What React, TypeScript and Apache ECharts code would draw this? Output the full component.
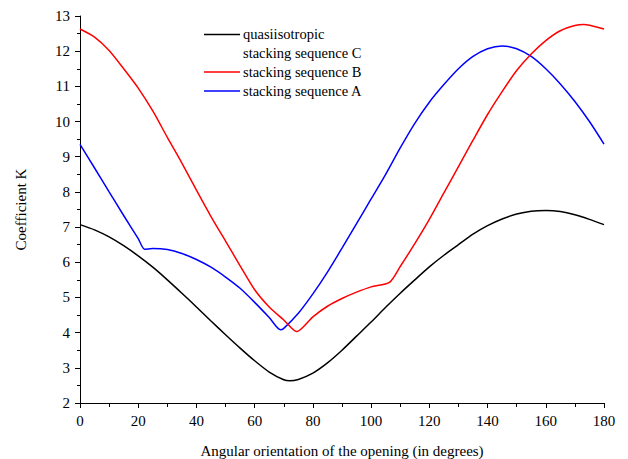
import React, { useEffect, useRef } from "react";
import * as echarts from "echarts";

// Angular orientation (degrees) and coefficient K for each stacking sequence
const seriesNames = ["quasiisotropic\nstacking sequence C", "stacking sequence B", "stacking sequence A"];

const quasiX = [0, 5, 10, 15, 20, 25, 30, 35, 40, 45, 50, 55, 60, 65, 70, 72, 75, 80, 85, 90, 95, 100, 105, 110, 115, 120, 125, 130, 135, 140, 145, 150, 155, 160, 165, 170, 175, 180];
const quasiK = [7.07, 6.92, 6.72, 6.47, 6.18, 5.86, 5.5, 5.12, 4.73, 4.33, 3.94, 3.56, 3.2, 2.88, 2.66, 2.63, 2.67, 2.85, 3.14, 3.5, 3.9, 4.3, 4.72, 5.12, 5.5, 5.87, 6.2, 6.5, 6.8, 7.04, 7.23, 7.37, 7.45, 7.47, 7.44, 7.35, 7.22, 7.07];

const seqBX = [0, 5, 10, 15, 20, 25, 30, 35, 40, 45, 50, 55, 60, 65, 70, 74.4, 80, 85, 90, 95, 100, 106.3, 110, 115, 120, 125, 130, 135, 140, 145, 150, 155, 160, 165, 170, 173, 175, 180];
const seqBK = [12.63, 12.4, 12.02, 11.5, 10.95, 10.3, 9.55, 8.82, 8.05, 7.3, 6.6, 5.9, 5.22, 4.73, 4.36, 4.03, 4.45, 4.75, 4.97, 5.15, 5.3, 5.43, 5.88, 6.53, 7.22, 7.97, 8.72, 9.47, 10.2, 10.85, 11.45, 11.92, 12.3, 12.58, 12.73, 12.76, 12.74, 12.63];

const seqAX = [0, 5, 10, 15, 20, 22.2, 25, 30, 35, 40, 45, 50, 55, 60, 65, 68.9, 70, 75, 80, 85, 90, 95, 100, 105, 110, 115, 120, 125, 130, 135, 140, 145, 150, 155, 160, 165, 170, 175, 180];
const seqAK = [9.35, 8.68, 8.0, 7.33, 6.67, 6.37, 6.39, 6.36, 6.25, 6.08, 5.86, 5.58, 5.26, 4.86, 4.43, 4.08, 4.12, 4.55, 5.1, 5.72, 6.4, 7.1, 7.8, 8.5, 9.25, 9.95, 10.55, 11.05, 11.5, 11.85, 12.07, 12.15, 12.07, 11.85, 11.5, 11.07, 10.57, 10.0, 9.36];

const xTicks = { min: 0, max: 180, interval: 20 };
const yTicks = { min: 2, max: 13, interval: 1 };
const xTitle = "Angular orientation of the opening (in degrees)";
const yTitle = "Coefficient K";

const colors = ["#000000", "#ff0000", "#0000ff"];

const FONT = "'Liberation Serif', 'Times New Roman', serif";

function pairs(xs: number[], ys: number[]) {
  return xs.map((x, i) => [x, ys[i]]);
}

export default function App() {
  const ref = useRef<HTMLDivElement>(null);
  useEffect(() => {
    if (!ref.current) return;
    const chart = echarts.init(ref.current, undefined, { renderer: "svg" });
    const data = [pairs(quasiX, quasiK), pairs(seqBX, seqBK), pairs(seqAX, seqAK)];
    const legendTop = 34.5;
    const legendStep = 18.8;
    const legendRows = [
      { idx: 0, y: legendTop },
      { idx: 1, y: legendTop + legendStep * 2 },
      { idx: 2, y: legendTop + legendStep * 3 },
    ];
    const graphics: any[] = [];
    legendRows.forEach((r) => {
      graphics.push({
        type: "line",
        shape: { x1: 204, y1: r.y, x2: 240, y2: r.y },
        style: { stroke: colors[r.idx], lineWidth: 1.5 },
      });
    });
    const legendFont = `14.5px ${FONT}`;
    graphics.push({
      type: "text",
      x: 243,
      y: legendTop - legendStep / 2,
      style: {
        text: seriesNames[0],
        fill: "#000",
        font: legendFont,
        lineHeight: legendStep,
        verticalAlign: "top",
      },
    });
    [1, 2].forEach((i) => {
      graphics.push({
        type: "text",
        x: 243,
        y: legendTop + legendStep * (i + 1) - legendStep / 2,
        style: {
          text: seriesNames[i],
          fill: "#000",
          font: legendFont,
          lineHeight: legendStep,
          verticalAlign: "top",
        },
      });
    });

    chart.setOption({
      animation: false,
      backgroundColor: "#ffffff",
      grid: {
        left: 80,
        right: 24,
        top: 16,
        bottom: 56,
        containLabel: false,
        outerBoundsMode: "none",
      },
      xAxis: {
        type: "value",
        min: xTicks.min,
        max: xTicks.max,
        interval: xTicks.interval,
        name: xTitle,
        nameLocation: "middle",
        nameGap: 40,
        nameTextStyle: { fontFamily: FONT, fontSize: 15, color: "#000" },
        axisLine: { lineStyle: { color: "#000", width: 1 } },
        axisTick: { show: true, inside: false, length: 5, lineStyle: { color: "#000" } },
        minorTick: { show: true, splitNumber: 2, length: 4, lineStyle: { color: "#000" } },
        axisLabel: { fontFamily: FONT, fontSize: 15, color: "#000", margin: 10 },
        splitLine: { show: false },
      },
      yAxis: {
        type: "value",
        min: yTicks.min,
        max: yTicks.max,
        interval: yTicks.interval,
        name: yTitle,
        nameLocation: "middle",
        nameRotate: 90,
        nameGap: 52,
        nameTextStyle: { fontFamily: FONT, fontSize: 15, color: "#000" },
        axisLine: { show: true, lineStyle: { color: "#000", width: 1 } },
        axisTick: { show: true, inside: false, length: 5, lineStyle: { color: "#000" } },
        minorTick: { show: true, splitNumber: 2, length: 3, lineStyle: { color: "#000" } },
        axisLabel: { fontFamily: FONT, fontSize: 15, color: "#000", margin: 10 },
        splitLine: { show: false },
      },
      series: data.map((d, i) => ({
        name: seriesNames[i],
        type: "line",
        data: d,
        showSymbol: false,
        smooth: 0.25,
        lineStyle: { color: colors[i], width: 1.5 },
        itemStyle: { color: colors[i] },
        z: 3 - i,
      })),
      graphic: graphics,
    });
    return () => chart.dispose();
  }, []);
  return (
    <div
      ref={ref}
      style={{ position: "fixed", left: 0, top: 0, width: 628, height: 459, background: "#fff" }}
    />
  );
}
